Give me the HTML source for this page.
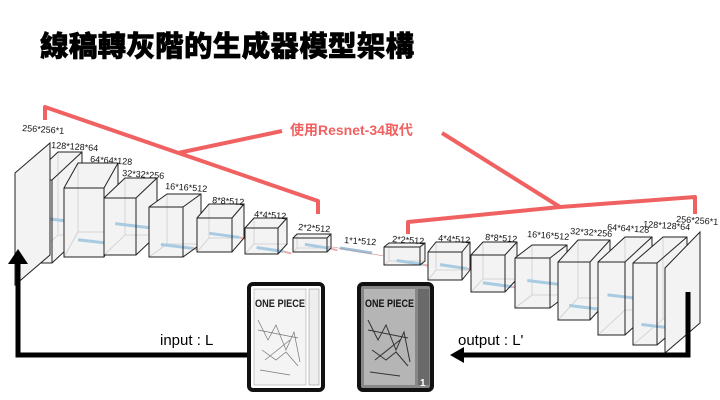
<!DOCTYPE html>
<html><head><meta charset="utf-8"><style>
html,body{margin:0;padding:0;background:#fff;}
svg{display:block;}
.lb{font-family:"Liberation Sans",sans-serif;font-size:9px;fill:#111;}
</style></head><body>
<svg id="s" width="720" height="400" viewBox="0 0 720 400" xmlns="http://www.w3.org/2000/svg">
<text x="40" y="56" font-family="'Noto Sans CJK TC','WenQuanYi Zen Hei',sans-serif" font-weight="900" font-size="28.5" fill="#000" stroke="#000" stroke-width="0.6" letter-spacing="0.3">線稿轉灰階的生成器模型架構</text>
<g id="boxes"></g>
<!-- planes -->
<polygon points="15,173 50,143 50,255 15,285" fill="#f3f3f3" stroke="#222" stroke-width="1"/>
<polygon points="665,268 700,232 700,323 665,353" fill="#f3f3f3" stroke="#222" stroke-width="1"/>
<line x1="340" y1="248" x2="372" y2="253" stroke="#9cc3dd" stroke-width="3"/>
<line x1="327" y1="246" x2="384" y2="256" stroke="#c88" stroke-width="0.6"/>
<!-- labels -->
<g class="lb">
<text x="22" y="131" transform="rotate(4 22 131)">256*256*1</text>
<text x="51" y="148" transform="rotate(4 51 148)">128*128*64</text>
<text x="90" y="162" transform="rotate(4 90 162)">64*64*128</text>
<text x="122" y="176" transform="rotate(4 122 176)">32*32*256</text>
<text x="165" y="189" transform="rotate(4 165 189)">16*16*512</text>
<text x="212" y="203" transform="rotate(4 212 203)">8*8*512</text>
<text x="254" y="217" transform="rotate(4 254 217)">4*4*512</text>
<text x="298" y="230" transform="rotate(4 298 230)">2*2*512</text>
<text x="344" y="243" transform="rotate(4 344 243)">1*1*512</text>
<text x="392" y="242" transform="rotate(4 392 242)">2*2*512</text>
<text x="438" y="241" transform="rotate(4 438 241)">4*4*512</text>
<text x="485" y="240" transform="rotate(4 485 240)">8*8*512</text>
<text x="527" y="237" transform="rotate(4 527 237)">16*16*512</text>
<text x="570" y="234" transform="rotate(4 570 234)">32*32*256</text>
<text x="607" y="230" transform="rotate(4 607 230)">64*64*128</text>
<text x="643" y="227" transform="rotate(4 643 227)">128*128*64</text>
<text x="676" y="222" transform="rotate(4 676 222)">256*256*1</text>
</g>
<!-- red brackets -->
<g stroke="#f06262" stroke-width="4" fill="none" stroke-linejoin="round">
<polyline points="45,120 45,107 318,201 318,214"/>
<line x1="178" y1="153" x2="282" y2="131"/>
<polyline points="408,234 408,222 560,207 695,197 695,214"/>
<line x1="560" y1="207" x2="442" y2="133"/>
</g>
<text x="290" y="135" font-family="'Liberation Sans','Noto Sans CJK TC',sans-serif" font-weight="bold" font-size="14" fill="#f06262">使用Resnet-34取代</text>
<!-- black arrows -->
<g stroke="#000" stroke-width="5" fill="none">
<polyline points="250,355 18,355 18,262"/>
<polyline points="688,292 688,355 462,355"/>
</g>
<polygon points="8,264 28,264 18,249" fill="#000"/>
<polygon points="464,347 464,363 450,355" fill="#000"/>
<text x="160" y="345" font-family="'Liberation Sans',sans-serif" font-size="15" fill="#000">input : L</text>
<text x="458" y="345" font-family="'Liberation Sans',sans-serif" font-size="15" fill="#000">output : L'</text>
<!-- manga covers -->
<rect x="249" y="284" width="74" height="106" rx="4" fill="#fff" stroke="#111" stroke-width="4"/>
<rect x="254" y="289" width="52" height="96" fill="#f4f4f4" stroke="#999" stroke-width="0.5"/>
<text x="255" y="307" font-family="'Liberation Sans',sans-serif" font-weight="bold" font-size="11" fill="#222" textLength="50" lengthAdjust="spacingAndGlyphs">ONE PIECE</text>
<g stroke="#777" stroke-width="0.7" fill="none"><path d="M258 320 l10 20 l8 -15 l10 25 l8 -18 l6 30 M262 350 l14 10 l10 -8 l12 14 M260 370 l30 5 M258 330 l40 8 M265 360 l25 -20"/></g>
<rect x="309" y="289" width="10" height="96" fill="#eee" stroke="#888" stroke-width="0.5"/>
<rect x="359" y="284" width="73" height="106" rx="4" fill="#888" stroke="#111" stroke-width="4"/>
<rect x="364" y="289" width="51" height="96" fill="#b5b5b5"/>
<text x="365" y="307" font-family="'Liberation Sans',sans-serif" font-weight="bold" font-size="11" fill="#111" textLength="49" lengthAdjust="spacingAndGlyphs">ONE PIECE</text>
<g stroke="#333" stroke-width="1" fill="none"><path d="M368 320 l10 20 l8 -15 l10 25 l8 -18 l6 30 M372 350 l14 10 l10 -8 l12 14 M370 372 l30 4 M368 330 l40 8 M375 360 l25 -20"/></g>
<rect x="418" y="289" width="11" height="96" fill="#6a6a6a"/>
<text x="420" y="386" font-family="'Liberation Sans',sans-serif" font-weight="bold" font-size="10" fill="#fff">1</text>
</svg>
<script>
var B=[[28,180,24,83,30,-28],[64,188,40,69,14,-25],[104,198,32,57,21,-20],[149,207,34,50,18,-13],[197,218,35,34,12,-14],[245,228,33,26,9,-10],[293,238,34,14,4,-4],
[384,247,36,18,5,-4],[428,252,34,28,8,-10],[471,255,34,37,12,-13],[515,258,35,50,17,-13],[558,262,32,58,20,-22],[598,262,27,73,27,-25],[633,263,24,82,30,-26]];
var s='';
B.forEach(function(b,i){var x=b[0],y=b[1],w=b[2],h=b[3],dx=b[4],dy=b[5];
s+='<polygon points="'+x+','+y+' '+(x+dx)+','+(y+dy)+' '+(x+w+dx)+','+(y+dy)+' '+(x+w+dx)+','+(y+h+dy)+' '+(x+w)+','+(y+h)+' '+x+','+(y+h)+'" fill="#f3f3f3" stroke="none"/>';
s+='<path d="M'+(x+dx)+' '+(y+dy)+'V'+(y+h+dy)+'H'+(x+w+dx)+'M'+x+' '+(y+h)+'L'+(x+dx)+' '+(y+h+dy)+'" stroke="#ccc" stroke-width="0.8" fill="none"/>';
var my=y+h*(i%2?0.75:0.45), x1=x+w*0.35, x2=x+w+dx*0.6;
s+='<line x1="'+x1+'" y1="'+my+'" x2="'+x2+'" y2="'+(my+4)+'" stroke="#a8cbe2" stroke-width="3"/>';
s+='<line x1="'+x2+'" y1="'+(my+4)+'" x2="'+(x2+8)+'" y2="'+(my+6)+'" stroke="#e8b0b0" stroke-width="2"/>';
s+='<path d="M'+x+' '+y+'L'+(x+dx)+' '+(y+dy)+'H'+(x+w+dx)+'V'+(y+h+dy)+'L'+(x+w)+' '+(y+h)+'H'+x+'Z M'+(x+w)+' '+(y+h)+'V'+y+'H'+x+' M'+(x+w)+' '+y+'L'+(x+w+dx)+' '+(y+dy)+'" stroke="#222" stroke-width="1" fill="none"/>';
});
document.getElementById('boxes').innerHTML=s;
</script>
</body></html>
